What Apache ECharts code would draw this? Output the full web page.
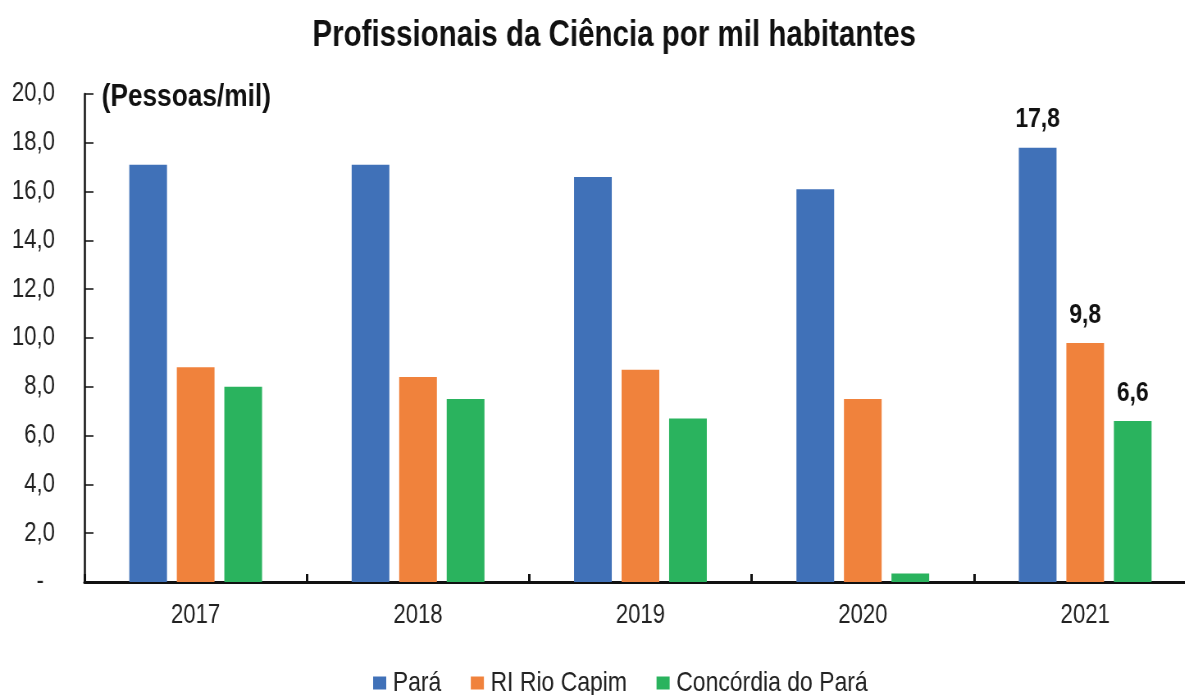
<!DOCTYPE html>
<html>
<head>
<meta charset="utf-8">
<script src="https://cdn.jsdelivr.net/npm/echarts@6/dist/echarts.min.js"></script>
<style>
  html, body { margin: 0; padding: 0; background: #fff; overflow: hidden; }
  /* a fonte do original é estreita (tipo Arial Narrow): desenha com Liberation Sans e comprime na horizontal */
  #chart { width: 1470px; height: 695px; transform: scaleX(0.82); transform-origin: 0 0; }
</style>
</head>
<body>
<div id="chart"></div>
<script>
// dados
const anos = ['2017', '2018', '2019', '2020', '2021'];
const para = [17.1, 17.1, 16.6, 16.1, 17.8];
const rioCapim = [8.8, 8.4, 8.7, 7.5, 9.8];
const concordia = [8.0, 7.5, 6.7, 0.35, 6.6];
const nomesSeries = ['Pará', 'RI Rio Capim', 'Concórdia do Pará'];
const cores = ['#4071B8', '#F0823C', '#2AB35E'];

const fonte = '"Liberation Sans", Arial, sans-serif';

function virgula(v) {
  return v.toFixed(1).replace('.', ',');
}

//só o último ano tem rótulo
function comRotulo(valores) {
  return valores.map((v, i) => {
    if (i === valores.length - 1) {
      return { value: v, label: { show: true } };
    }
    return v;
  });
}

function serie(nome, valores, cor) {
  return {
    name: nome,
    type: 'bar',
    barWidth: 46,
    barGap: '26%',
    itemStyle: { color: cor },
    label: {
      show: false,
      position: 'top',
      distance: 14,
      formatter: p => virgula(p.value),
      fontFamily: fonte,
      fontWeight: 'bold',
      fontSize: 28,
      color: '#111'
    },
    data: comRotulo(valores)
  };
}

let grafico = echarts.init(document.getElementById('chart'));
let option = {
  animation: false,
  title: {
    text: 'Profissionais da Ciência por mil habitantes',
    left: 744,
    textAlign: 'center',
    top: 13,
    textStyle: {
      fontFamily: fonte,
      fontWeight: 'bold',
      fontSize: 36,
      color: '#111'
    }
  },
  graphic: [
    {
      type: 'text',
      left: 124,
      top: 81,
      style: {
        text: '(Pessoas/mil)',
        font: 'bold 32px ' + fonte,
        fill: '#111'
      }
    }
  ],
  legend: {
    data: nomesSeries,
    left: 450,
    top: 664,
    icon: 'rect',
    itemWidth: 16,
    itemHeight: 13,
    itemGap: 36,
    textStyle: {
      fontFamily: fonte,
      fontSize: 28,
      color: '#222',
      padding: [0, 0, 0, 3]
    }
  },
  grid: {
    left: 103,
    right: 11,
    top: 94,
    bottom: 113
  },
  xAxis: {
    type: 'category',
    data: anos,
    axisLine: { lineStyle: { color: '#111', width: 3 } },
    axisTick: { show: true, inside: true, length: 8, lineStyle: { color: '#111', width: 3 } },
    axisLabel: {
      margin: 20,
      fontFamily: fonte,
      fontSize: 27,
      color: '#222'
    }
  },
  yAxis: {
    type: 'value',
    min: 0,
    max: 20,
    interval: 2,
    splitLine: { show: false },
    axisLine: { show: true, lineStyle: { color: '#111', width: 2.5 } },
    axisTick: { show: true, inside: true, length: 11, lineStyle: { color: '#111', width: 1.5 } },
    axisLabel: {
      margin: 36,
      fontFamily: fonte,
      fontSize: 27,
      color: '#222',
      formatter: v => (v === 0 ? '-\u2002' : virgula(v))
    }
  },
  series: [
    serie(nomesSeries[0], para, cores[0]),
    serie(nomesSeries[1], rioCapim, cores[1]),
    serie(nomesSeries[2], concordia, cores[2])
  ]
};
grafico.setOption(option);
</script>
</body>
</html>
